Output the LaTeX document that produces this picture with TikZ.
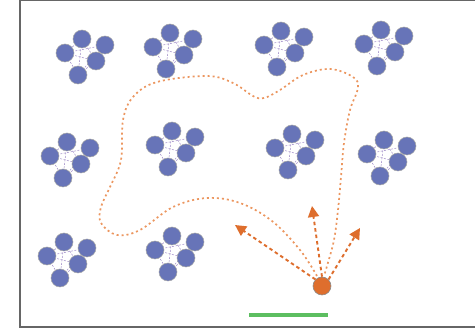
\documentclass[tikz,border=0pt]{standalone}
\usetikzlibrary{arrows.meta}
\definecolor{ball}{RGB}{103,116,184}
\definecolor{link}{RGB}{160,140,200}
\definecolor{orgline}{RGB}{236,150,95}
\definecolor{orgdark}{RGB}{222,110,45}
\definecolor{gline}{RGB}{92,190,96}
\tikzset{
  ballnode/.style={circle,fill=ball,draw=black!35,line width=0.5pt,minimum size=18pt,inner sep=0pt},
  linkline/.style={draw=link,dashed,dash pattern=on 2pt off 1.5pt,line width=0.5pt},
  loopline/.style={draw=orgline,line width=1.7pt,dash pattern=on 2pt off 3pt},
  arrline/.style={draw=orgdark,line width=1.9pt,dash pattern=on 3.5pt off 3pt,-{Triangle[length=11pt,width=11pt]}},
  frameline/.style={draw=black!60,line width=1.3pt}
}
\newcommand{\molcluster}[3]{%
  \begin{scope}[shift={(#2,#3)}]
    \coordinate (#1t) at (0,0);
    \coordinate (#1r) at (23,6);
    \coordinate (#1l) at (-17,14);
    \coordinate (#1m) at (14,22);
    \coordinate (#1b) at (-4,36);
    \foreach \p/\q in {t/m,t/b,l/r,l/m,r/b,l/b,t/l,r/m,m/b}{
      \draw[linkline] (#1\p) -- (#1\q);}
    \foreach \p in {t,r,l,m,b}{
      \node[ballnode] (#1\p n) at (#1\p) {};}
  \end{scope}}
\begin{document}
\begin{tikzpicture}[x=1pt,y=-1pt]
\useasboundingbox (0,0) rectangle (475,328);
\fill[white] (0,0) rectangle (475,328);
% frame
\coordinate (fa) at (20,327);
\coordinate (fb) at (20,0.7);
\coordinate (fc) at (476,0.7);
\coordinate (fd) at (476,327);
\draw[frameline] (fc) -- (fb) -- (fa) -- (fd);
% clusters
\molcluster{a}{82}{39}
\molcluster{b}{170}{33}
\molcluster{c}{281}{31}
\molcluster{d}{381}{30}
\molcluster{e}{67}{142}
\molcluster{f}{172}{131}
\molcluster{g}{292}{134}
\molcluster{h}{384}{140}
\molcluster{i}{64}{242}
\molcluster{j}{172}{236}
% agent
\node[circle,fill=orgdark,draw=black!45,line width=0.6pt,minimum size=18pt,inner sep=0pt] (agent) at (322,286) {};
% explored loop
\draw[loopline] plot[smooth,tension=0.6] coordinates {
 (317,276) (300,250) (272,221) (240,203) (207,198) (173,207) (140,230) (117,235)
 (101,223) (101,207) (110,187) (121,160) (123,120) (133,97) (157,82) (207,76)
 (233,83) (253,96) (264,98) (280,90) (303,75) (330,69) (353,77) (358,88)
 (350,110) (344,143) (341,177) (338,210) (334,240) (327,266) (324,276)};
% arrows
\coordinate (t1) at (235,225);
\coordinate (t2) at (312,206);
\coordinate (t3) at (360,228);
\draw[arrline] (agent.north west) -- (t1);
\draw[arrline] (agent.north) -- (t2);
\draw[arrline] (agent.north east) -- (t3);
% ground line
\coordinate (g1) at (249,315);
\coordinate (g2) at (328,315);
\draw[draw=gline,line width=3.5pt] (g1) -- (g2);
\end{tikzpicture}
\end{document}
